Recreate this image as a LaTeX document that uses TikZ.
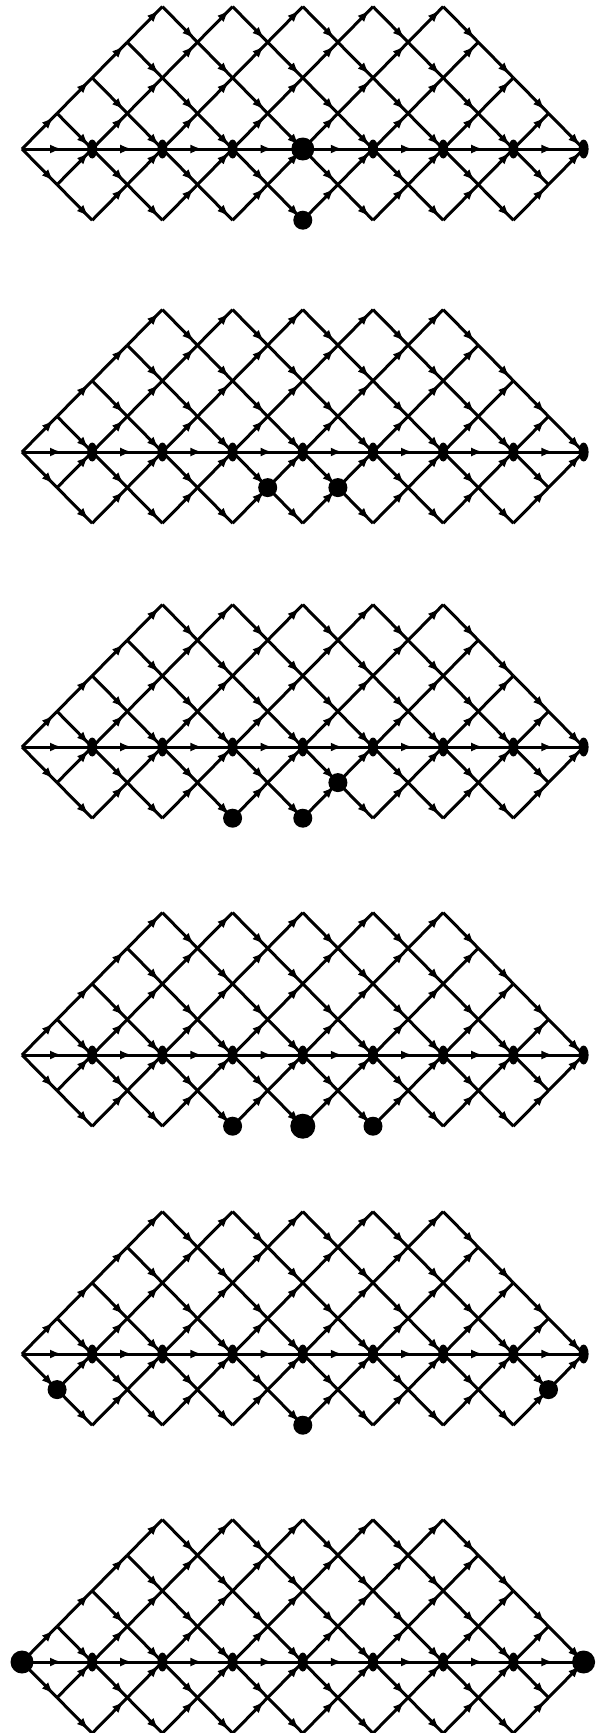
\documentclass[tikz,border=0pt]{standalone}
\usetikzlibrary{arrows.meta,decorations.markings,shapes.geometric}
\tikzset{
  lat/.style={line width=3pt},
  diag/.style={lat, postaction={decorate}, decoration={markings, mark=at position 0.9 with {\arrow{Latex[length=12pt,width=9pt]}}}},
  axisedge/.style={lat, postaction={decorate}, decoration={markings, mark=at position 0.57 with {\arrow{Latex[length=12pt,width=9pt]}}}},
  sdot/.style={ellipse, fill=black, draw=none, inner sep=0pt, minimum width=10pt, minimum height=19pt},
  mdot/.style={circle, fill=black, draw=none, inner sep=0pt, minimum size=19pt},
  bdot/.style={circle, fill=black, draw=none, inner sep=0pt, minimum size=23pt},
  hdot/.style={circle, fill=black, draw=none, inner sep=0pt, minimum size=25pt},
}
\begin{document}
\begin{tikzpicture}[x=1pt,y=-1pt]
\useasboundingbox (0,0) rectangle (596,1733);
% lattice points
\foreach \p/\Y in {1/149, 2/452, 3/747, 4/1055, 5/1354, 6/1662} {
  \foreach \i in {0,...,16} {
    \foreach \j in {-2,...,4} {
      \pgfmathtruncatemacro{\ok}{and(mod(\i+\j+20,2)==0, abs(\j)<=min(\i,16-\i))}
      \ifnum\ok=1
        \pgfmathtruncatemacro{\jj}{\j+2}
        \coordinate (n-\p-\i-\jj) at ({22+35.1*\i},{\Y-35.6*\j});
      \fi
    }
  }
}
% connectors
\foreach \p in {1,...,6} {
  \foreach \i in {0,...,15} {
    \foreach \j in {-2,...,4} {
      \pgfmathtruncatemacro{\ok}{and(mod(\i+\j+20,2)==0, abs(\j)<=min(\i,16-\i))}
      \ifnum\ok=1
        \pgfmathtruncatemacro{\jj}{\j+2}
        \pgfmathtruncatemacro{\ni}{\i+1}
        \pgfmathtruncatemacro{\up}{and(\j<4, abs(\j+1)<=min(\i+1,15-\i))}
        \pgfmathtruncatemacro{\dn}{and(\j>-2, abs(\j-1)<=min(\i+1,15-\i))}
        \pgfmathtruncatemacro{\ju}{\jj+1}
        \pgfmathtruncatemacro{\jd}{\jj-1}
        \ifnum\up=1 \draw[diag] (n-\p-\i-\jj) -- (n-\p-\ni-\ju); \fi
        \ifnum\dn=1 \draw[diag] (n-\p-\i-\jj) -- (n-\p-\ni-\jd); \fi
        \ifnum\j=0
          \pgfmathtruncatemacro{\nn}{\i+2}
          \draw[axisedge] (n-\p-\i-2) -- (n-\p-\nn-2);
        \fi
      \fi
    }
  }
}
% axis dots
\foreach \p in {1,...,5} {
  \foreach \i in {2,4,...,16} {
    \ifnum\p\i=18 \else
      \node[sdot] (s-\p-\i) at (n-\p-\i-2) {};
    \fi
  }
}
\foreach \i in {2,4,...,14} { \node[sdot] (s-6-\i) at (n-6-\i-2) {}; }
% panel 1
\node[bdot] (b-1-8) at (n-1-8-2) {};
\node[mdot] (m-1-a) at (n-1-8-0) {};
% panel 2
\node[mdot] (m-2-a) at (n-2-7-1) {};
\node[mdot] (m-2-b) at (n-2-9-1) {};
% panel 3
\node[mdot] (m-3-a) at (n-3-6-0) {};
\node[mdot] (m-3-b) at (n-3-8-0) {};
\node[mdot] (m-3-c) at (n-3-9-1) {};
% panel 4
\node[mdot] (m-4-a) at (n-4-6-0) {};
\node[hdot] (m-4-b) at (n-4-8-0) {};
\node[mdot] (m-4-c) at (n-4-10-0) {};
% panel 5
\node[mdot] (m-5-a) at (n-5-1-1) {};
\node[mdot] (m-5-b) at (n-5-8-0) {};
\node[mdot] (m-5-c) at (n-5-15-1) {};
% panel 6
\node[bdot] (b-6-0) at (n-6-0-2) {};
\node[bdot] (b-6-16) at (n-6-16-2) {};
\end{tikzpicture}
\end{document}
